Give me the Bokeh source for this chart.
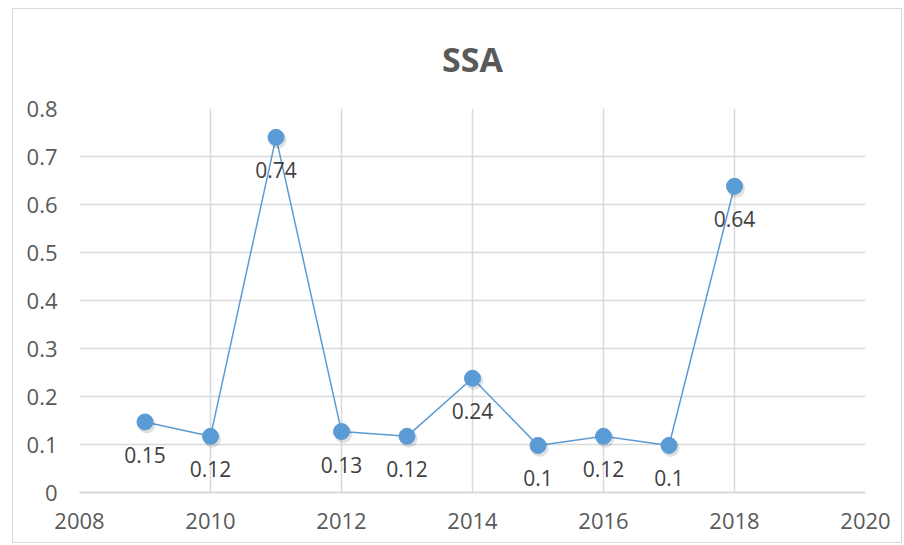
from bokeh.plotting import figure
from bokeh.models import ColumnDataSource, FixedTicker, Title
from bokeh.core.properties import value
from bokeh.embed import file_html
from bokeh.resources import INLINE

years = [2009, 2010, 2011, 2012, 2013, 2014, 2015, 2016, 2017, 2018]
ssa = [0.147, 0.117, 0.74, 0.127, 0.117, 0.238, 0.098, 0.117, 0.098, 0.638]
labels = ["0.15", "0.12", "0.74", "0.13", "0.12", "0.24", "0.1", "0.12", "0.1", "0.64"]
x_ticks = [2008, 2010, 2012, 2014, 2016, 2018, 2020]
y_ticks = [0, 0.1, 0.2, 0.3, 0.4, 0.5, 0.6, 0.7, 0.8]

FONT = "Open Sans"
BLUE = "#5b9bd5"

src = ColumnDataSource(dict(x=years, y=ssa, lab=labels,
                            xs=[v + 0.025 for v in years],
                            ys=[v - 0.005 for v in ssa]))

p = figure(width=890, height=535, output_backend="svg", toolbar_location=None,
           x_range=(2008, 2020), y_range=(0, 0.8),
           min_border_left=66, min_border_right=38, min_border_top=99, min_border_bottom=52)
p.margin = (8, 0, 0, 12)
p.styles = {"border": "1px solid #d9d9d9"}
p.background_fill_color = "white"
p.border_fill_color = "white"
p.outline_line_color = None

t = Title(text="SSA", align="center", text_font=FONT, text_font_size="34px",
          text_font_style="bold", text_color="#595959", standoff=50,
          vertical_align="top", text_line_height=0.6)
p.add_layout(t, "above")

p.xaxis.ticker = FixedTicker(ticks=x_ticks)
p.yaxis.ticker = FixedTicker(ticks=y_ticks)
for ax in (p.xaxis, p.yaxis):
    ax.major_tick_line_color = None
    ax.minor_tick_line_color = None
    ax.major_label_text_font = FONT
    ax.major_label_text_font_size = "22px"
    ax.major_label_text_color = "#595959"
p.yaxis.axis_line_color = None
p.xaxis.axis_line_color = "#d9d9d9"
p.xaxis.axis_line_width = 2
p.xaxis.major_label_standoff = 14
p.yaxis.major_label_standoff = 16

p.xgrid.ticker = FixedTicker(ticks=x_ticks)
p.ygrid.ticker = FixedTicker(ticks=y_ticks)
p.grid.grid_line_color = "#d9d9d9"
p.grid.grid_line_width = 1.5

p.line("x", "y", source=src, line_color=BLUE, line_width=1.5)
p.scatter("xs", "ys", source=src, size=18, fill_color="#000000", fill_alpha=0.12, line_color=None)
p.scatter("x", "y", source=src, size=16, fill_color=BLUE, line_color=BLUE)
p.text("x", "y", text="lab", source=src, text_align="center", text_baseline="middle",
       y_offset=33, text_font=value(FONT), text_font_size="21px", text_color="#404040")

open("out.html", "w").write(file_html(p, INLINE))
